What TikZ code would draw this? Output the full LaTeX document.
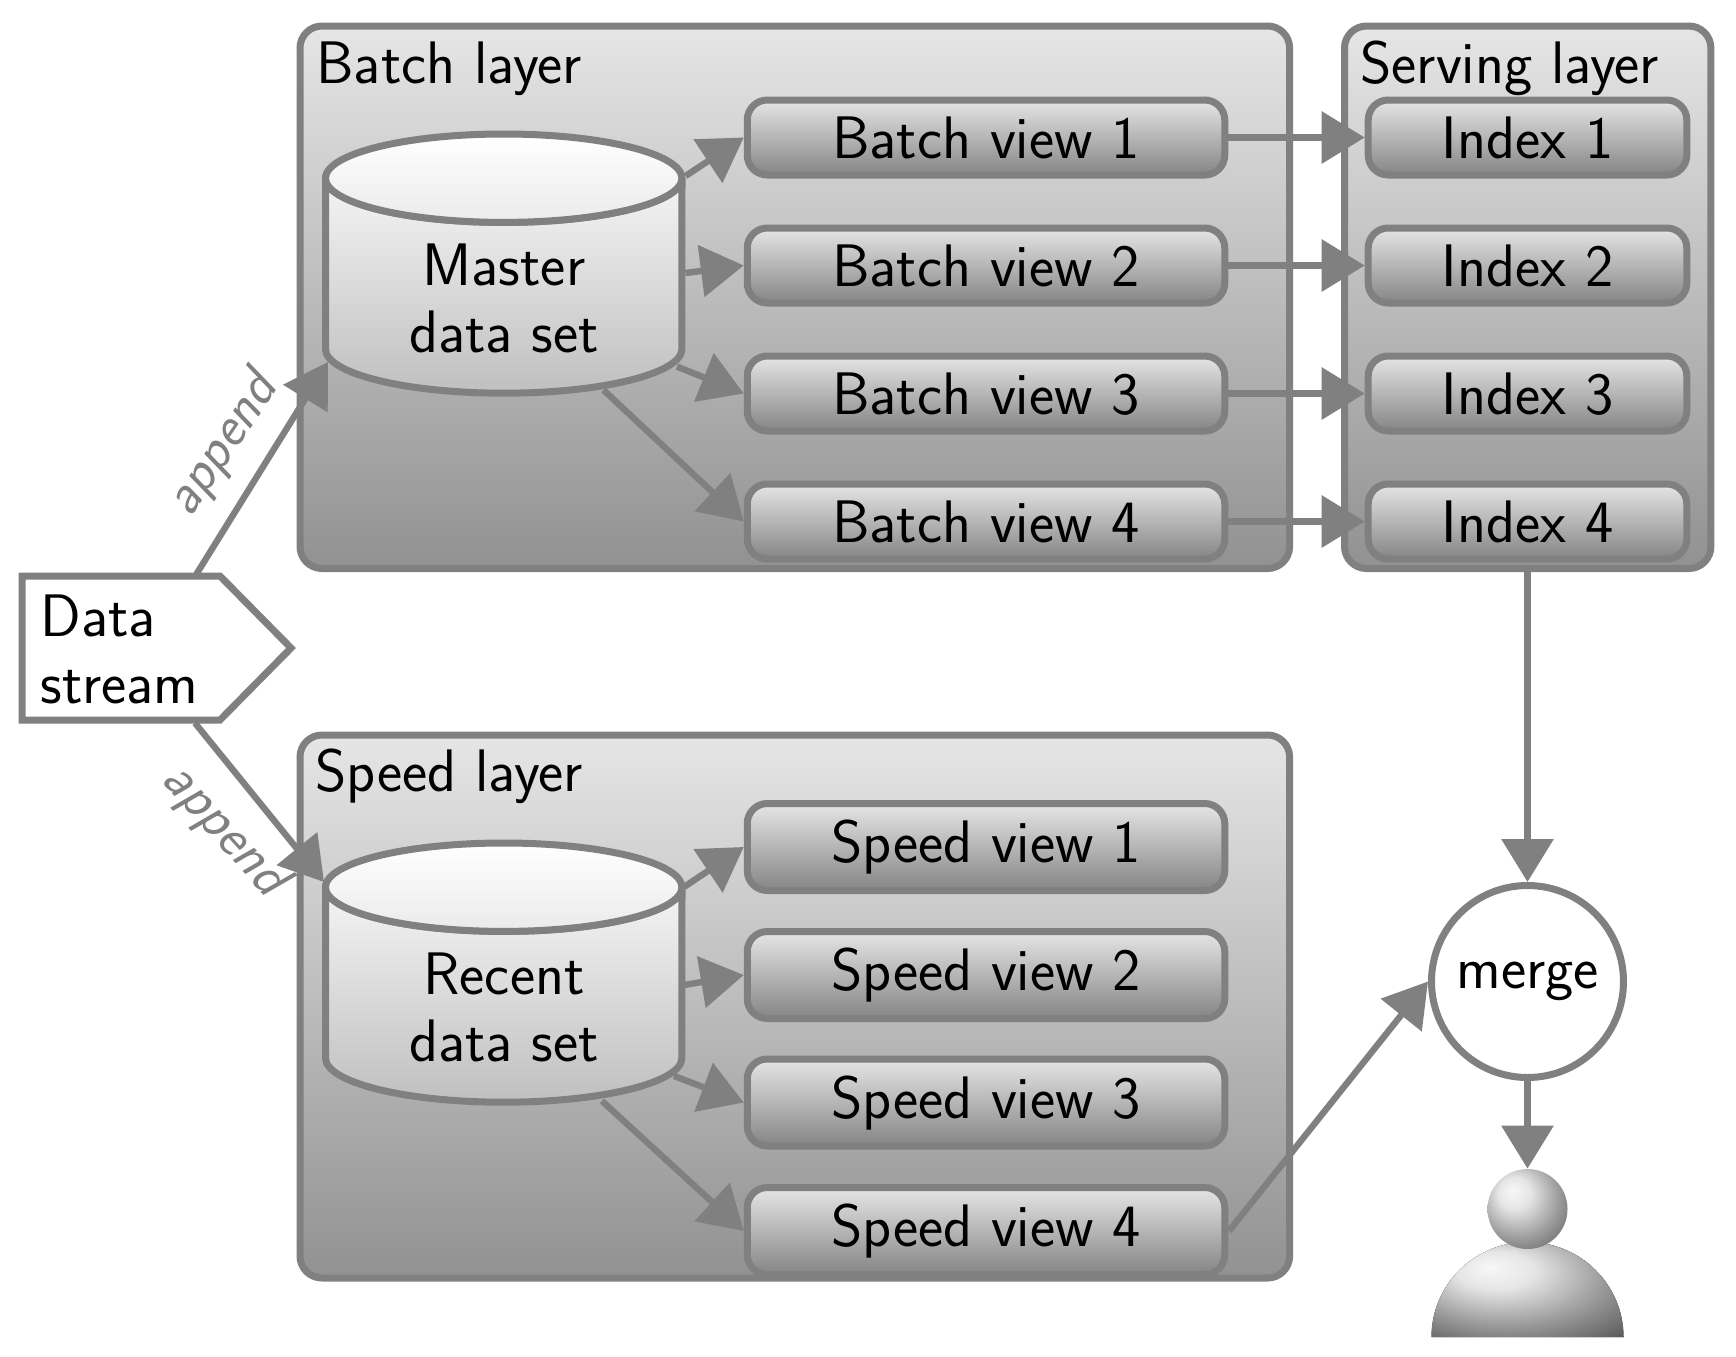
\documentclass[tikz,border=0pt]{standalone}
\usetikzlibrary{arrows.meta}
\definecolor{edgegray}{gray}{0.5}
\pgfdeclareradialshading{personball}{\pgfpoint{-10bp}{12bp}}{%
  gray(0bp)=(0.97);gray(10bp)=(0.9);gray(26bp)=(0.6);gray(40bp)=(0.36);gray(60bp)=(0.2)}
\tikzset{
  x=0.5pt,y=-0.5pt,
  every node/.style={font=\fontsize{30}{33.5}\selectfont\sffamily},
  layerbox/.style={draw=edgegray,line width=3.5pt,rounded corners=11pt,top color=black!10,bottom color=black!43},
  viewbox/.style={draw=edgegray,line width=3.5pt,rounded corners=10pt,top color=black!10,bottom color=black!48,
     minimum width=238.75pt,minimum height=37.5pt,text height=21pt,text depth=0pt,inner ysep=0pt,inner xsep=0pt},
  indexbox/.style={viewbox,minimum width=159.3pt},
  speedbox/.style={viewbox,minimum height=43.5pt,text height=15.5pt},
  label/.style={anchor=base west,inner sep=0pt},
  flow/.style={draw=edgegray,line width=3.2pt,-{Triangle[length=21.5pt,width=25.5pt]}},
  appendtext/.style={text=edgegray,inner sep=0pt,font=\fontsize{28}{30}\selectfont\sffamily\slshape},
}
\newcommand{\cyl}[3]{%
  \begin{scope}[yshift=#2]
  \draw[draw=edgegray,line width=3.5pt,top color=black!4,bottom color=black!25]
    (325.5,178.2) -- (325.5,349) arc[start angle=180,end angle=0,x radius=178.2,y radius=44.2] -- (682,178.2)
    arc[start angle=0,end angle=180,x radius=178.2,y radius=44.2] -- cycle;
  \draw[draw=edgegray,line width=3.5pt,top color=white,bottom color=black!8]
    (503.7,178.2) ellipse[x radius=178.2,y radius=44.2];
  \node[anchor=base,align=center,inner sep=0pt] (#1) at (504,352) {#3};
  \end{scope}}
\begin{document}
\begin{tikzpicture}
\useasboundingbox (0,0) rectangle (1736,1356);
\fill[white] (0,0) rectangle (1736,1356);
% layers
\draw[layerbox] (300,26) rectangle (1289.6,568.5);
\draw[layerbox] (300,735) rectangle (1289.6,1278);
\node[draw=edgegray,line width=3.5pt,rounded corners=11pt,top color=black!10,bottom color=black!43,
  minimum width=183.2pt,minimum height=271.25pt,inner sep=0pt] (serving) at (1527.7,297.25) {};
\node[label] (tb) at (316,83) {Batch layer};
\node[label] (ts) at (315,791) {Speed layer};
\node[label] (tv) at (1360,83) {Serving layer};
% cylinders
\cyl{master}{0pt}{Master\\data set}
\cyl{recent}{-354.5pt}{Recent\\data set}
% views
\node[viewbox] (bv1) at (986,137.5) {Batch view 1};
\node[viewbox] (bv2) at (986,265.5) {Batch view 2};
\node[viewbox] (bv3) at (986,393.5) {Batch view 3};
\node[viewbox] (bv4) at (986,521.5) {Batch view 4};
\node[indexbox] (ix1) at (1527.5,137.5) {Index 1};
\node[indexbox] (ix2) at (1527.5,265.5) {Index 2};
\node[indexbox] (ix3) at (1527.5,393.5) {Index 3};
\node[indexbox] (ix4) at (1527.5,521.5) {Index 4};
\node[speedbox] (sv1) at (986,847) {Speed view 1};
\node[speedbox] (sv2) at (986,975) {Speed view 2};
\node[speedbox] (sv3) at (986,1102.5) {Speed view 3};
\node[speedbox] (sv4) at (986,1231) {Speed view 4};
% data stream
\draw[draw=edgegray,line width=3.5pt,fill=white] (22,576) -- (220,576) -- (291,648) -- (220,720) -- (22,720) -- cycle;
\node[anchor=base west,align=left,inner sep=0pt] (data) at (40,703) {Data\\stream};
% merge and person
\node[circle,draw=edgegray,line width=3.5pt,fill=white,minimum size=96pt,inner sep=0pt] (merge) at (1527.5,981.5) {merge};
\fill[shading=personball] (1431.5,1337) arc[start angle=180,end angle=360,x radius=96,y radius=95] -- cycle;
\node[circle,minimum size=40pt,inner sep=0pt,shading=personball] (head) at (1527.5,1209) {};
% named free ends
\coordinate (ds1) at (196.5,574);
\coordinate (ds2) at (195,723);
\coordinate (mi) at (328,362);
\coordinate (ri) at (324,882);
\coordinate (m1) at (685.5,176);
\coordinate (m2) at (685.5,273);
\coordinate (m3) at (677,366.6);
\coordinate (m4) at (603.5,390);
\coordinate (r1) at (684,887);
\coordinate (r2) at (684,985);
\coordinate (r3) at (674,1076);
\coordinate (r4) at (602,1101);
\coordinate (sv4o) at (1229,1231);
% connectors
\draw[flow] (ds1) -- (mi);
\draw[flow] (ds2) -- (ri);
\draw[flow] (m1) -- (bv1.west);
\draw[flow] (m2) -- (bv2.west);
\draw[flow] (m3) -- (bv3.west);
\draw[flow] (m4) -- (bv4.west);
\draw[flow] (r1) -- (sv1.west);
\draw[flow] (r2) -- (sv2.west);
\draw[flow] (r3) -- (sv3.west);
\draw[flow] (r4) -- (sv4.west);
\draw[flow] (bv1.east) -- (ix1.west);
\draw[flow] (bv2.east) -- (ix2.west);
\draw[flow] (bv3.east) -- (ix3.west);
\draw[flow] (bv4.east) -- (ix4.west);
\draw[flow] (serving.south -| merge.north) -- (merge.north);
\draw[flow] (merge.south) -- (head.north);
\draw[flow] (sv4o) -- (merge.west);
\node[appendtext,rotate=56] (ap1) at (223,445) {append};
\node[appendtext,rotate=-48] (ap2) at (224,830) {append};
\end{tikzpicture}
\end{document}
